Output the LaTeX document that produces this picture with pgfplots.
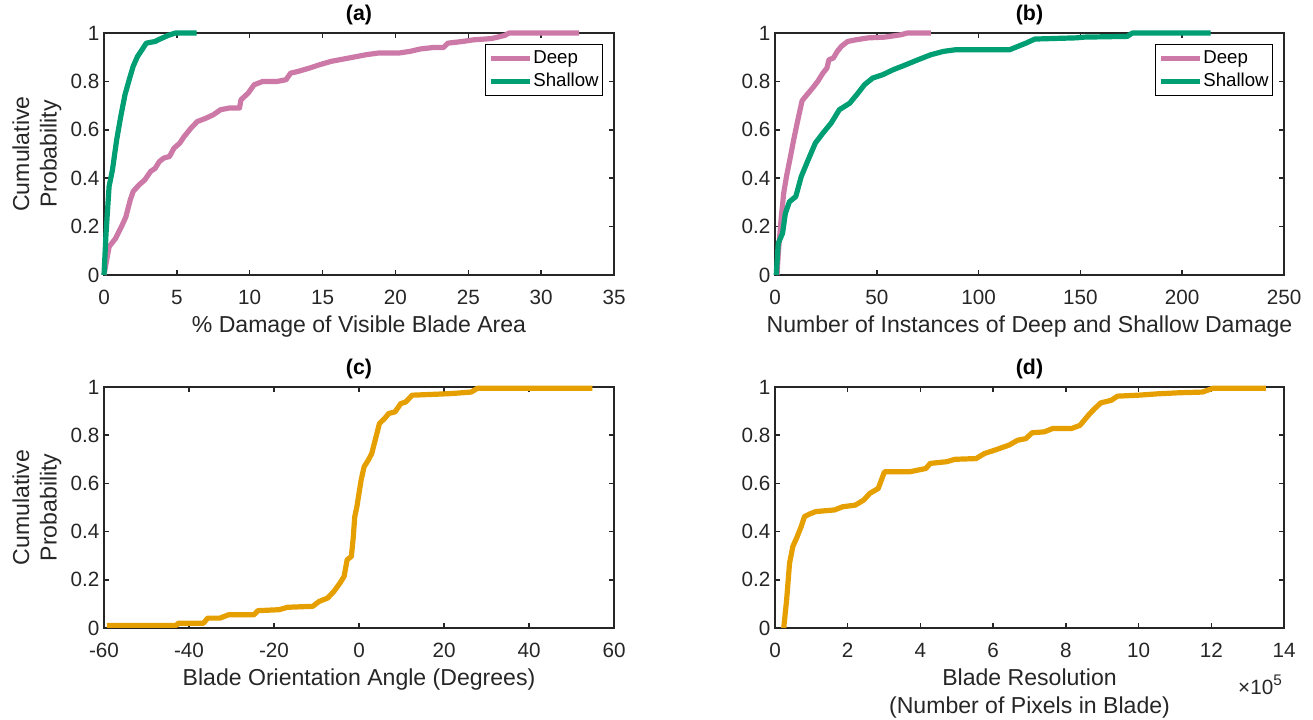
\documentclass[border=0pt]{standalone}
\usepackage{pgfplots}
\pgfplotsset{compat=1.18}
\usepackage{fontspec}
\setmainfont{Liberation Sans}
\definecolor{deep}{RGB}{204,121,167}
\definecolor{shallow}{RGB}{0,158,115}
\definecolor{orng}{RGB}{230,159,0}
\definecolor{axgray}{RGB}{38,38,38}
\pgfplotsset{
  myax/.style={
    scale only axis,
    anchor=south west,
    clip=false,
    axis line style={axgray, line width=1.1pt},
    every tick/.style={axgray, line width=1.1pt},
    tick align=inside,
    major tick length=3.75pt,
    ymin=0, ymax=1,
    ytick={0,0.2,0.4,0.6,0.8,1},
    /pgf/number format/assume math mode=true,
    ticklabel style={font=\fontsize{15.5}{18}\selectfont, text=axgray},
    xticklabel style={anchor=center, yshift=-16.5pt},
    label style={font=\fontsize{17.3}{20.6}\selectfont, text=axgray},
    xlabel style={at={(axis description cs:0.5,0)}, anchor=base, yshift=-43.1pt},
    ylabel style={at={(axis description cs:0,0.5)}, anchor=center, yshift=50.3pt, align=center},
    title style={at={(axis description cs:0.5,1)}, anchor=base, yshift=3.5pt, font=\bfseries\fontsize{16}{19}\selectfont},
    legend cell align=left,
    legend style={at={(axis description cs:1,1)}, anchor=north east, xshift=-8.25pt, yshift=-8pt,
      draw=black, line width=0.9pt, inner xsep=2pt, inner ysep=3pt,
      font=\fontsize{14}{16}\selectfont,
      nodes={inner sep=0.8pt, text height=10.5pt, text depth=3pt},
      row sep=2.5pt},
    legend image code/.code={\draw[#1, line width=3.9pt] (0pt,0pt) -- (29pt,0pt);},
  },
  cdf/.style={line width=3.9pt, line join=round, mark=none},
}
\begin{document}
\begin{tikzpicture}
\useasboundingbox (0,0) rectangle (984.75pt,539.25pt);
% (a)
\begin{axis}[myax, at={(78pt,333pt)}, width=382.5pt, height=181.5pt,
  xmin=0, xmax=35, xtick={0,5,...,35},
  title={(a)}, xlabel={\% Damage of Visible Blade Area}, ylabel={Cumulative\\Probability}]
\addplot[cdf, deep] coordinates {
(0,0) (0.35,0.117) (0.78,0.15) (1.2,0.2) (1.5,0.24) (1.8,0.31) (2.0,0.345) (2.4,0.372)
(2.8,0.393) (3.2,0.428) (3.5,0.44) (3.8,0.469) (4.1,0.483) (4.5,0.49) (4.8,0.524)
(5.2,0.545) (5.5,0.572) (5.97,0.607) (6.4,0.634) (7.0,0.648) (7.5,0.662) (8.0,0.683)
(8.6,0.69) (9.3,0.69) (9.4,0.724) (9.9,0.752) (10.3,0.786) (10.9,0.8) (11.9,0.8)
(12.5,0.807) (12.8,0.834) (13.3,0.841) (14.1,0.855) (14.8,0.869) (15.6,0.883)
(16.4,0.892) (17.1,0.9) (17.96,0.91) (18.8,0.917) (20.2,0.917) (21.0,0.924)
(21.7,0.934) (22.6,0.94) (23.3,0.94) (23.6,0.958) (24.6,0.965) (25.4,0.972)
(26.6,0.977) (27.5,0.99) (27.8,1) (32.6,1)};
\addlegendentry{Deep}
\addplot[cdf, shallow] coordinates {
(0,0) (0.14,0.172) (0.35,0.366) (0.58,0.434) (0.87,0.559) (1.15,0.655) (1.44,0.745)
(1.73,0.807) (2.0,0.862) (2.3,0.903) (2.6,0.93) (2.9,0.958) (3.5,0.965) (3.8,0.974)
(4.4,0.99) (4.9,1) (6.35,1)};
\addlegendentry{Shallow}
\end{axis}
% (b)
\begin{axis}[myax, at={(581.25pt,333pt)}, width=381.75pt, height=181.5pt,
  xmin=0, xmax=250, xtick={0,50,...,250},
  title={(b)}, xlabel={Number of Instances of Deep and Shallow Damage}]
\addplot[cdf, deep] coordinates {
(1,0) (1.6,0.09) (3.1,0.24) (4.3,0.34) (5.7,0.41) (7.6,0.49) (9.2,0.56) (11.2,0.64)
(13.3,0.72) (15.7,0.745) (18.4,0.772) (21,0.8) (23.5,0.834) (25.5,0.855) (26.5,0.89)
(28.6,0.896) (30.6,0.924) (32.6,0.945) (35.7,0.965) (39.8,0.972) (45.9,0.98)
(54,0.983) (62,0.993) (65,1) (76.5,1)};
\addlegendentry{Deep}
\addplot[cdf, shallow] coordinates {
(0.6,0) (1.6,0.131) (3.7,0.172) (5.1,0.255) (7.1,0.303) (10.2,0.324) (12.9,0.407)
(16.3,0.476) (19.8,0.545) (23.5,0.586) (27.6,0.628) (31.6,0.683) (36.7,0.71)
(40.8,0.752) (43.9,0.786) (48,0.814) (53,0.828) (58,0.848) (64.3,0.869) (70.4,0.89)
(76.5,0.91) (82.7,0.924) (88.8,0.931) (115.3,0.931) (119.4,0.945) (123.5,0.959)
(127.6,0.975) (148,0.98) (152,0.983) (173,0.986) (175.5,1) (214,1)};
\addlegendentry{Shallow}
\end{axis}
% (c)
\begin{axis}[myax, at={(78pt,68.25pt)}, width=382.5pt, height=180.75pt,
  xmin=-60, xmax=60, xtick={-60,-40,...,60},
  title={(c)}, xlabel={Blade Orientation Angle (Degrees)}, ylabel={Cumulative\\Probability}]
\addplot[cdf, orng] coordinates {
(-59.3,0.011) (-43,0.011) (-42.5,0.02) (-36.6,0.02) (-35.6,0.041) (-32.7,0.041)
(-30.7,0.055) (-24.7,0.055) (-23.8,0.072) (-18.8,0.076) (-16.8,0.086) (-10.9,0.09)
(-9.4,0.11) (-7.4,0.124) (-5.9,0.152) (-4.5,0.186) (-3.5,0.214) (-2.8,0.283)
(-1.8,0.297) (-1.4,0.366) (-1.0,0.462) (-0.5,0.503) (0.0,0.559) (0.5,0.614)
(1.2,0.669) (2.2,0.697) (3.0,0.724) (4.0,0.793) (4.8,0.848) (6.0,0.869) (7.0,0.89)
(8.5,0.897) (9.8,0.931) (11.0,0.938) (12.5,0.966) (20.9,0.972) (23.4,0.975)
(26.4,0.979) (27.9,0.995) (54.9,0.995)};
\end{axis}
% (d)
\begin{axis}[myax, at={(581.25pt,68.25pt)}, width=381.75pt, height=180.75pt,
  xmin=0, xmax=14, xtick={0,2,...,14},
  title={(d)}, xlabel={Blade Resolution}]
\addplot[cdf, orng] coordinates {
(0.24,0) (0.32,0.117) (0.40,0.269) (0.49,0.338) (0.61,0.379) (0.72,0.421) (0.81,0.462)
(0.95,0.473) (1.12,0.483) (1.64,0.49) (1.86,0.503) (2.21,0.51) (2.44,0.531)
(2.61,0.559) (2.84,0.579) (3.01,0.648) (3.7,0.648) (4.15,0.662) (4.27,0.683)
(4.72,0.69) (4.95,0.7) (5.53,0.703) (5.76,0.724) (6.1,0.741) (6.44,0.759)
(6.67,0.779) (6.9,0.786) (7.07,0.81) (7.41,0.814) (7.64,0.828) (8.16,0.828)
(8.39,0.841) (8.62,0.883) (8.79,0.91) (8.96,0.934) (9.25,0.945) (9.42,0.962)
(9.99,0.966) (10.56,0.972) (11.1,0.976) (11.76,0.979) (12.05,0.995) (13.5,0.995)};
\node[anchor=base, font=\fontsize{17.3}{20.6}\selectfont, text=axgray] at (axis description cs:0.5,0) [yshift=-64.4pt] {(Number of Pixels in Blade)};
\node[anchor=center, font=\fontsize{15.5}{18}\selectfont, text=axgray] at (axis description cs:1,0) [xshift=-18pt, yshift=-42.75pt] {×10\raisebox{0.45em}{\fontsize{11.5}{13}\selectfont 5}};
\end{axis}
\end{tikzpicture}
\end{document}
